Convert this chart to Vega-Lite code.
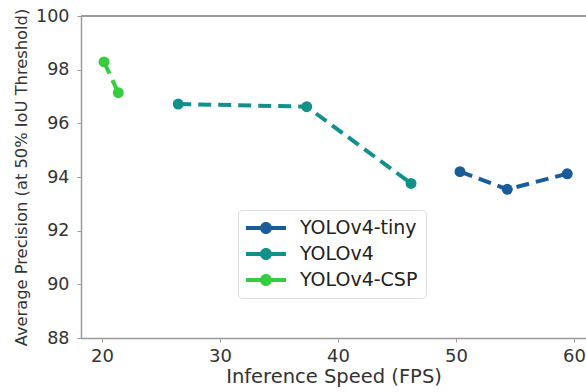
{
  "$schema": "https://vega.github.io/schema/vega-lite/v6.json",
  "width": 505,
  "height": 322,
  "autosize": "none",
  "padding": {"left": 81, "top": 16, "right": 0, "bottom": 54},
  "background": "white",
  "config": {
    "font": "DejaVu Sans",
    "view": {"stroke": null},
    "axis": {
      "grid": false,
      "domainColor": "#9a9a9a",
      "domainWidth": 1.5,
      "tickColor": "#9a9a9a",
      "tickSize": 4,
      "labelColor": "#333333",
      "titleColor": "#333333",
      "titleFontWeight": "normal",
      "labelFont": "DejaVu Sans",
      "titleFont": "DejaVu Sans"
    }
  },
  "data": {
    "values": [
      {"model": "YOLOv4-CSP", "fps": 20.17, "ap": 98.29},
      {"model": "YOLOv4-CSP", "fps": 21.38, "ap": 97.14},
      {"model": "YOLOv4", "fps": 26.46, "ap": 96.72},
      {"model": "YOLOv4", "fps": 37.35, "ap": 96.62},
      {"model": "YOLOv4", "fps": 46.19, "ap": 93.76},
      {"model": "YOLOv4-tiny", "fps": 50.34, "ap": 94.2},
      {"model": "YOLOv4-tiny", "fps": 54.35, "ap": 93.54},
      {"model": "YOLOv4-tiny", "fps": 59.43, "ap": 94.12}
    ]
  },
  "encoding": {
    "x": {
      "field": "fps",
      "type": "quantitative",
      "scale": {"domain": [18.22, 61.02], "nice": false, "zero": false},
      "axis": {
        "title": "Inference Speed (FPS)",
        "values": [20, 30, 40, 50, 60],
        "labelFontSize": 18,
        "titleFontSize": 19.5,
        "labelPadding": 5,
        "titlePadding": 2
      }
    },
    "y": {
      "field": "ap",
      "type": "quantitative",
      "scale": {"domain": [88, 100], "nice": false, "zero": false},
      "axis": {
        "title": "Average Precision (at 50% IoU Threshold)",
        "values": [88, 90, 92, 94, 96, 98, 100],
        "labelFontSize": 17.5,
        "titleFontSize": 16.3,
        "labelPadding": 8,
        "titlePadding": 6
      }
    },
    "color": {
      "field": "model",
      "type": "nominal",
      "scale": {
        "domain": ["YOLOv4-tiny", "YOLOv4", "YOLOv4-CSP"],
        "range": ["#1a5c97", "#12908a", "#36cc40"]
      },
      "legend": {
        "title": null,
        "orient": "none",
        "legendX": 157,
        "legendY": 194,
        "labelFontSize": 19,
        "labelColor": "#222222",
        "labelFont": "DejaVu Sans",
        "symbolType": "M -1 -0.2 L 3 -0.2 L 3 0.2 L -1 0.2 Z M 1.6 0 A 0.6 0.6 0 1 1 0.4 0 A 0.6 0.6 0 1 1 1.6 0 Z",
        "symbolSize": 400,
        "symbolStrokeWidth": 0,
        "symbolOpacity": 1,
        "labelOffset": 34,
        "rowPadding": 6,
        "padding": 8,
        "strokeColor": "#dddddd",
        "fillColor": "white",
        "cornerRadius": 4
      }
    }
  },
  "layer": [
    {
      "mark": {"type": "rule", "color": "#9a9a9a", "strokeWidth": 1.5},
      "encoding": {
        "x": {"datum": 18.22},
        "x2": {"datum": 61.02},
        "y": {"datum": 100},
        "color": {"value": "#9a9a9a"}
      }
    },
    {
      "mark": {"type": "line", "strokeWidth": 4, "strokeDash": [13, 7]},
      "encoding": {
        "detail": {"field": "model"}
      }
    },
    {
      "mark": {"type": "point", "filled": true, "opacity": 1, "size": 120}
    }
  ]
}
